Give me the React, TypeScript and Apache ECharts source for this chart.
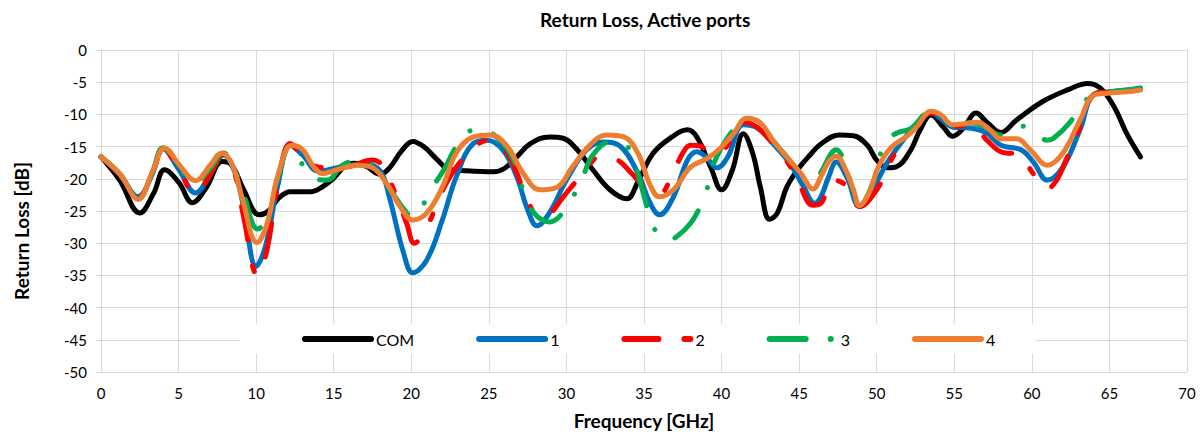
import React, { useEffect, useRef } from "react";
import * as echarts from "echarts";

const TITLE = "Return Loss, Active ports";
const X_NAME = "Frequency [GHz]";
const Y_NAME = "Return Loss [dB]";
const SERIES_NAMES = ["COM", "1", "2", "3", "4"];

const COM: [number, number][] = [
  [0, -16.6], [1.2, -20.2], [2.5, -25.3], [3.4, -22.2], [4.1, -18.6], [5.0, -20.5], [5.9, -23.7],
  [6.8, -21.3], [7.8, -17.3], [8.4, -17.8], [9.2, -21.7], [10.2, -25.6], [10.8, -25.0], [11.5, -22.9],
  [12.2, -22.0], [13.5, -22.0], [14.3, -21.2], [15.0, -19.9], [15.7, -18.1], [16.3, -17.6], [17.1, -18.1],
  [18.0, -19.3], [18.6, -18.3], [19.4, -15.6], [20.1, -14.2], [20.8, -15.0], [21.7, -17.1], [22.4, -18.5],
  [23.2, -18.7], [25.3, -18.9], [26.0, -18.4], [26.8, -16.6], [27.7, -14.5], [28.9, -13.5], [29.8, -13.7],
  [30.7, -15.5], [31.7, -18.6], [32.8, -21.7], [33.9, -23.1], [34.6, -20.5], [35.6, -16.0], [36.8, -13.5],
  [37.8, -12.4], [38.4, -13.5], [39.3, -18.2], [40.0, -21.7], [40.7, -18.6], [41.4, -13.0], [42.0, -16.0],
  [42.5, -21.3], [43.1, -26.3], [43.6, -25.3], [44.2, -21.3], [44.9, -18.6], [45.7, -16.3], [46.4, -14.6],
  [47.6, -13.2], [48.5, -13.3], [49.4, -14.8], [50.0, -17.1], [50.7, -18.3], [51.3, -18.1], [52.2, -15.5],
  [52.8, -12.4], [53.5, -10.1], [54.3, -12.0], [54.9, -13.4], [55.6, -12.1], [56.4, -9.8], [57.1, -11.2],
  [58.0, -12.8], [59.0, -10.9], [60.7, -8.0], [62.3, -6.2], [63.6, -5.2], [64.4, -5.9], [65.3, -8.8],
  [66.1, -12.9], [67.0, -16.6],
];

const PORT1: [number, number][] = [
  [0, -16.6], [1.2, -19.3], [2.4, -22.8], [3.3, -19.3], [4.0, -15.3], [5.0, -18.5], [6.1, -22.2],
  [7.0, -19.5], [7.9, -16.3], [8.6, -18.8], [9.2, -24.5], [10.0, -33.6], [10.6, -30.5], [11.4, -21.0],
  [12.2, -14.8], [13.0, -16.3], [14.0, -18.8], [15.0, -18.4], [16.0, -17.9], [17.0, -17.7], [18.0, -18.8],
  [18.6, -23.0], [19.5, -31.5], [20.1, -34.6], [21.0, -32.6], [22.0, -26.4], [22.9, -19.7], [24.0, -14.5],
  [24.9, -14.0], [25.9, -15.5], [26.8, -19.7], [27.5, -24.8], [28.1, -27.3], [28.9, -25.3], [30.0, -20.2],
  [31.3, -15.5], [32.4, -14.3], [33.5, -15.0], [34.6, -19.1], [35.4, -23.8], [36.0, -25.6], [36.9, -22.8],
  [37.8, -17.1], [38.4, -15.8], [39.0, -16.6], [39.7, -18.3], [40.4, -16.6], [41.4, -11.6], [42.3, -12.1],
  [43.3, -14.5], [44.4, -17.6], [45.3, -21.3], [46.0, -23.8], [46.4, -22.8], [46.9, -19.7], [47.4, -17.4],
  [48.1, -19.9], [48.9, -24.3], [49.8, -21.3], [50.7, -17.4], [51.7, -14.0], [52.6, -11.5], [53.5, -9.8],
  [54.3, -11.0], [54.9, -12.0], [56.0, -12.1], [57.1, -12.9], [58.0, -14.8], [59.3, -15.5], [60.1, -17.4],
  [61.0, -20.2], [62.0, -18.2], [63.1, -12.4], [64.0, -6.9], [65.0, -6.5], [66.0, -6.3], [67.0, -5.9],
];

const PORT2: [number, number][] = [
  [0, -16.6], [1.2, -19.3], [2.4, -22.8], [3.3, -19.3], [4.0, -15.2], [5.0, -18.5], [6.1, -22.3],
  [7.0, -19.5], [7.9, -16.2], [8.6, -19.0], [9.2, -26.0], [10.1, -35.0], [10.7, -31.0], [11.4, -21.0],
  [12.2, -14.5], [13.0, -16.5], [13.9, -18.1], [14.8, -18.3], [16.0, -18.1], [17.5, -17.1], [18.2, -18.1],
  [18.8, -21.3], [19.7, -26.9], [20.2, -30.0], [21.0, -27.5], [22.0, -21.9], [22.9, -18.2], [24.2, -14.8],
  [25.1, -14.0], [26.2, -16.0], [27.5, -23.3], [28.3, -26.1], [28.8, -25.8], [29.8, -22.8], [31.1, -19.1],
  [32.2, -16.5], [33.3, -17.1], [34.1, -18.9], [35.2, -21.6], [36.0, -22.3], [36.8, -19.5], [37.5, -16.0],
  [38.0, -14.8], [38.6, -14.9], [39.3, -16.0], [40.2, -15.3], [41.5, -11.2], [42.3, -12.0], [43.3, -14.5],
  [44.3, -17.6], [44.9, -20.2], [45.9, -24.1], [46.4, -23.8], [47.2, -20.2], [48.0, -21.0], [48.9, -24.3],
  [50.0, -21.7], [50.7, -18.2], [51.5, -14.8], [52.6, -11.5], [53.5, -9.8], [54.3, -11.0], [55.0, -11.8],
  [56.2, -11.9], [57.1, -14.0], [58.0, -15.8], [59.3, -16.3], [60.0, -18.9], [61.0, -21.5], [61.6, -20.2],
  [62.2, -17.1], [63.1, -12.0], [64.0, -6.9], [65.0, -6.5], [66.0, -6.3], [67.0, -6.0],
];

const PORT3: [number, number][] = [
  [0, -16.6], [1.2, -19.2], [2.4, -23.0], [3.3, -19.0], [4.0, -15.2], [5.0, -18.0], [6.0, -20.7],
  [7.0, -18.5], [7.9, -16.0], [8.6, -18.5], [9.2, -22.5], [10.1, -27.8], [10.8, -25.5], [11.5, -19.0],
  [12.2, -14.8], [12.8, -17.1], [13.7, -19.9], [14.6, -20.2], [15.5, -18.0], [16.7, -17.1], [17.5, -17.9],
  [18.4, -20.7], [19.3, -24.0], [20.1, -25.9], [21.3, -21.5], [22.1, -18.6], [22.7, -15.8], [23.3, -13.4],
  [24.4, -12.2], [25.7, -14.0], [26.6, -17.1], [27.2, -21.7], [27.9, -25.3], [28.9, -26.7], [30.4, -22.8],
  [31.1, -19.4], [31.7, -16.3], [32.8, -14.3], [33.7, -14.5], [34.3, -17.1], [34.75, -20.5], [35.4, -25.9],
  [36.0, -29.0], [36.6, -29.4], [37.1, -29.0], [38.0, -26.9], [38.6, -24.4], [39.1, -21.3], [39.5, -17.6],
  [40.6, -12.9], [41.6, -10.7], [42.5, -11.3], [43.3, -14.0], [44.2, -16.6], [45.1, -19.5], [45.9, -21.3],
  [46.4, -19.0], [47.4, -15.5], [48.0, -18.0], [48.9, -24.1], [49.9, -19.7], [50.5, -14.3], [51.3, -12.9],
  [52.2, -12.2], [53.5, -9.5], [54.1, -10.0], [54.9, -11.6], [56.0, -11.3], [57.0, -12.0], [58.0, -13.2],
  [59.3, -11.8], [60.1, -12.7], [61.0, -14.0], [61.4, -13.7], [62.4, -11.4], [63.2, -8.5], [64.0, -7.0],
  [65.0, -6.5], [66.0, -6.2], [67.0, -6.0],
];

const PORT4: [number, number][] = [
  [0, -16.6], [1.2, -19.2], [2.4, -23.2], [3.3, -19.0], [4.1, -15.2], [5.1, -18.0], [6.1, -20.3],
  [7.0, -18.0], [7.8, -16.0], [8.5, -18.0], [9.1, -23.0], [10.05, -29.9], [10.7, -27.0], [11.4, -19.5],
  [12.3, -14.8], [13.0, -15.5], [13.7, -18.1], [14.3, -19.2], [15.2, -18.6], [16.5, -17.9], [17.5, -18.3],
  [18.4, -20.7], [19.3, -24.4], [20.1, -26.4], [21.0, -25.3], [22.0, -21.3], [22.9, -16.0], [24.0, -13.5],
  [25.1, -13.2], [26.2, -15.0], [27.2, -19.1], [28.3, -21.7], [29.4, -21.3], [30.4, -18.1], [31.5, -14.8],
  [32.6, -13.2], [33.7, -13.5], [34.6, -16.0], [35.4, -21.0], [36.0, -22.8], [36.9, -21.7], [38.0, -18.2],
  [39.1, -16.8], [39.9, -15.3], [40.8, -12.9], [41.6, -10.6], [42.5, -11.3], [43.3, -14.0], [44.2, -16.6],
  [45.1, -19.1], [45.9, -21.6], [46.4, -19.7], [46.9, -17.4], [47.4, -16.5], [48.0, -18.6], [48.5, -21.7],
  [48.9, -24.2], [49.5, -22.2], [50.1, -18.2], [50.9, -15.2], [52.0, -13.3], [52.6, -11.9], [53.5, -9.5],
  [54.1, -10.0], [54.9, -11.6], [55.8, -11.4], [56.5, -11.2], [57.3, -12.4], [58.0, -13.8], [59.0, -13.8],
  [59.9, -15.5], [61.0, -17.9], [62.0, -16.0], [63.1, -10.9], [64.0, -7.0], [64.9, -6.7], [66.1, -6.5],
  [67.0, -6.2],
];

const SERIES_DATA = [COM, PORT1, PORT2, PORT3, PORT4];
const COLORS = ["#000000", "#0070C0", "#FF0000", "#00B050", "#ED7D31"];
const DASHES: (string | number[])[] = ["solid", "solid", [34, 26, 6, 26], [36, 25, 0.1, 25], "solid"];

const FONT = "Lato, 'Open Sans', sans-serif";
const GRID_COLOR = "#d9d9d9";

export default function App() {
  const ref = useRef<HTMLDivElement>(null);
  useEffect(() => {
    if (!ref.current) return;
    const chart = echarts.init(ref.current, null, { renderer: "svg" });
    const option = {
      animation: false,
      backgroundColor: "#ffffff",
      title: {
        text: TITLE,
        left: 535,
        top: 5,
        textStyle: { fontFamily: FONT, fontWeight: "bold", fontSize: 19, color: "#000" },
      },
      grid: { left: 101, right: 13, top: 50, bottom: 68, containLabel: false },
      legend: {
        left: 240,
        top: 324,
        padding: [7, 40, 7, 62],
        backgroundColor: "#ffffff",
        itemWidth: 66,
        itemHeight: 14,
        itemGap: 62,
        data: SERIES_NAMES,
        itemStyle: { opacity: 0 },
        lineStyle: { width: 6, cap: "round" },
        textStyle: { fontFamily: FONT, fontSize: 16, color: "#000" },
      },
      xAxis: {
        type: "value",
        min: 0,
        max: 70,
        interval: 5,
        name: X_NAME,
        nameLocation: "middle",
        nameGap: 39,
        nameTextStyle: { fontFamily: FONT, fontWeight: "bold", fontSize: 19, color: "#000" },
        axisLine: { show: true, lineStyle: { color: GRID_COLOR, width: 1 } },
        axisTick: { show: true, length: 5, lineStyle: { color: GRID_COLOR } },
        axisLabel: { margin: 13, fontFamily: FONT, fontSize: 15, color: "#000" },
        splitLine: { show: true, lineStyle: { color: GRID_COLOR, width: 1 } },
      },
      yAxis: {
        type: "value",
        min: -50,
        max: 0,
        interval: 5,
        name: Y_NAME,
        nameLocation: "middle",
        nameGap: 70,
        nameRotate: 90,
        nameTextStyle: {
          fontFamily: FONT,
          fontWeight: "bold",
          fontSize: 19,
          color: "#000",
          padding: [0, 40, 0, 0],
        },
        axisLine: { show: true, lineStyle: { color: GRID_COLOR, width: 1 } },
        axisTick: { show: true, length: 5, lineStyle: { color: GRID_COLOR } },
        axisLabel: { margin: 14, fontFamily: FONT, fontSize: 15, color: "#000" },
        splitLine: { show: true, lineStyle: { color: GRID_COLOR, width: 1 } },
      },
      series: SERIES_NAMES.map((name, i) => ({
        name,
        type: "line",
        data: SERIES_DATA[i],
        smooth: 0.4,
        showSymbol: false,
        symbol: "none",
        color: COLORS[i],
        lineStyle: { color: COLORS[i], width: 5, type: DASHES[i], cap: "round", join: "round" },
        z: 2 + i,
      })),
    };
    chart.setOption(option as any);
    return () => chart.dispose();
  }, []);
  return <div ref={ref} style={{ width: 1200, height: 440, position: "absolute", left: 0, top: 0 }} />;
}
